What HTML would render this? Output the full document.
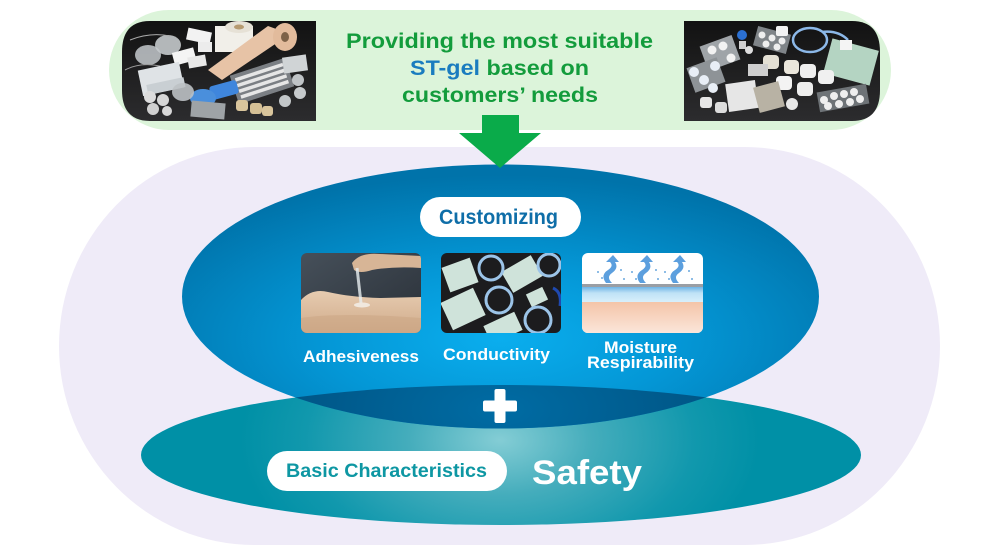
<!DOCTYPE html>
<html>
<head>
<meta charset="utf-8">
<style>
html,body{margin:0;padding:0;background:#fff;}
svg{display:block;}
text{font-family:"Liberation Sans",Arial,sans-serif;font-weight:bold;}
</style>
</head>
<body>
<svg width="1000" height="560" viewBox="0 0 1000 560" xmlns="http://www.w3.org/2000/svg">
<defs>
  <radialGradient id="gBlue" cx="0.5" cy="0.66" r="0.62">
    <stop offset="0" stop-color="#0aaeee"/>
    <stop offset="0.45" stop-color="#0497d6"/>
    <stop offset="1" stop-color="#0073aa"/>
  </radialGradient>
  <radialGradient id="gTeal" gradientUnits="userSpaceOnUse" cx="500" cy="440" r="260" gradientTransform="translate(0,440) scale(1,0.6) translate(0,-440)">
    <stop offset="0" stop-color="#84cdd5"/>
    <stop offset="0.35" stop-color="#45adbc"/>
    <stop offset="0.75" stop-color="#1198ad"/>
    <stop offset="1" stop-color="#0090a6"/>
  </radialGradient>
  <radialGradient id="gDark" gradientUnits="userSpaceOnUse" cx="500" cy="410" r="300" gradientTransform="translate(0,410) scale(1,0.5) translate(0,-410)">
    <stop offset="0" stop-color="#006ca4"/>
    <stop offset="1" stop-color="#004c79"/>
  </radialGradient>
  <clipPath id="clipTeal"><ellipse cx="501" cy="455" rx="360" ry="70"/></clipPath>
  <linearGradient id="dark1" x1="0" y1="0" x2="0" y2="1">
    <stop offset="0" stop-color="#121212"/>
    <stop offset="1" stop-color="#2c2c2e"/>
  </linearGradient>
  <linearGradient id="slate" x1="0" y1="0" x2="1" y2="1">
    <stop offset="0" stop-color="#46505a"/>
    <stop offset="1" stop-color="#2a3038"/>
  </linearGradient>
  <linearGradient id="skin" x1="0" y1="0" x2="0" y2="1">
    <stop offset="0" stop-color="#e6cbb0"/>
    <stop offset="1" stop-color="#d0ab8a"/>
  </linearGradient>
  <linearGradient id="peach" x1="0" y1="0" x2="0" y2="1">
    <stop offset="0" stop-color="#f4c4a8"/>
    <stop offset="1" stop-color="#fbe6da"/>
  </linearGradient>
  <linearGradient id="lblue" x1="0" y1="0" x2="0" y2="1">
    <stop offset="0" stop-color="#6fb4e6"/>
    <stop offset="0.4" stop-color="#bfe2f6"/>
    <stop offset="1" stop-color="#d8effb"/>
  </linearGradient>
  <clipPath id="cp1"><rect x="301" y="253" width="120" height="80" rx="6"/></clipPath>
  <clipPath id="cp2"><rect x="441" y="253" width="120" height="80" rx="6"/></clipPath>
  <clipPath id="cp3"><rect x="582" y="253" width="121" height="80" rx="6"/></clipPath>
  <clipPath id="cpL"><path d="M150,21 H316 V121 H150 Q122,121 122,90 V52 Q122,21 150,21 Z"/></clipPath>
  <clipPath id="cpR"><path d="M684,21 H852 Q880,21 880,52 V90 Q880,121 852,121 H684 Z"/></clipPath>
</defs>

<!-- Green top pill -->
<rect x="109" y="10" width="782" height="120" rx="60" fill="#dcf4da"/>

<!-- Left product photo -->
<g clip-path="url(#cpL)">
  <rect x="122" y="21" width="194" height="100" fill="url(#dark1)"/>
  <ellipse cx="168" cy="45" rx="13" ry="10" fill="#cfd3d6" opacity="0.85"/>
  <ellipse cx="148" cy="55" rx="13" ry="10" fill="#c4c9cc" opacity="0.85"/>
  <path d="M130,40 Q150,32 170,36" stroke="#aaa" stroke-width="1" fill="none"/>
  <path d="M125,70 Q140,62 160,66" stroke="#999" stroke-width="1" fill="none"/>
  <rect x="187" y="30" width="24" height="12" fill="#f2f2f2" transform="rotate(12 199 36)"/>
  <rect x="173" y="50" width="22" height="13" fill="#f4f4f4" transform="rotate(-15 184 56)"/>
  <rect x="188" y="56" width="18" height="11" fill="#e8e8e8" transform="rotate(-10 197 61)"/>
  <rect x="198" y="42" width="14" height="10" fill="#ececec"/>
  <rect x="215" y="26" width="38" height="26" fill="#f1efe9"/>
  <ellipse cx="239" cy="27" rx="14" ry="6" fill="#e6e1d6"/>
  <ellipse cx="239" cy="27" rx="5" ry="2.5" fill="#b69a70"/>
  <path d="M268,26 L290,34 L222,80 L208,70 Z" fill="#e7c3a6"/>
  <ellipse cx="285" cy="37" rx="12" ry="14" fill="#e2bb9c"/>
  <ellipse cx="285" cy="37" rx="4" ry="5" fill="#7d6248"/>
  <rect x="140" y="66" width="42" height="26" fill="#dfe3e6" transform="rotate(-12 161 79)"/>
  <rect x="147" y="82" width="38" height="10" fill="#c9cfd3" transform="rotate(-12 161 87)"/>
  <rect x="233" y="66" width="58" height="30" fill="#7b7f84" transform="rotate(-18 262 81)"/>
  <g transform="rotate(-18 262 81)" fill="#e6e6e6">
    <rect x="237" y="70" width="50" height="3.5"/>
    <rect x="237" y="76" width="50" height="3.5"/>
    <rect x="237" y="82" width="50" height="3.5"/>
    <rect x="237" y="88" width="50" height="3.5"/>
  </g>
  <rect x="210" y="83" width="28" height="14" rx="3" fill="#3f86dd" transform="rotate(-15 224 90)"/>
  <ellipse cx="203" cy="98" rx="13" ry="9" fill="#4a8fdc"/>
  <ellipse cx="183" cy="92" rx="11" ry="9" fill="#bcc1c4" opacity="0.9"/>
  <circle cx="150" cy="97" r="6" fill="#dcdcdc"/>
  <circle cx="163" cy="100" r="6" fill="#d6d6d6"/>
  <circle cx="153" cy="109" r="6" fill="#d0d0d0"/>
  <circle cx="167" cy="111" r="5" fill="#d8d8d8"/>
  <rect x="191" y="102" width="34" height="16" fill="#9ea3a6" transform="rotate(5 208 110)"/>
  <rect x="236" y="100" width="12" height="11" rx="3" fill="#d9c59c"/>
  <rect x="250" y="103" width="12" height="11" rx="3" fill="#d5c095"/>
  <rect x="262" y="106" width="11" height="10" rx="3" fill="#d9c59c"/>
  <rect x="283" y="56" width="24" height="16" fill="#d0d4d6" transform="rotate(-8 295 64)"/>
  <circle cx="298" cy="80" r="6" fill="#bfc3c6"/>
  <circle cx="300" cy="93" r="6" fill="#c6cacc"/>
  <circle cx="285" cy="101" r="6" fill="#c2c6c8"/>
</g>

<!-- Right product photo -->
<g clip-path="url(#cpR)">
  <rect x="684" y="21" width="196" height="100" fill="url(#dark1)"/>
  <rect x="703" y="40" width="34" height="26" fill="#9fa4a8" transform="rotate(-20 720 53)"/>
  <circle cx="712" cy="50" r="4.5" fill="#f2f2f2"/><circle cx="723" cy="46" r="4.5" fill="#f2f2f2"/><circle cx="731" cy="58" r="4.5" fill="#f2f2f2"/>
  <rect x="690" y="62" width="32" height="26" fill="#8e9397" transform="rotate(-20 706 75)"/>
  <circle cx="694" cy="72" r="5" fill="#e8eef6"/><circle cx="704" cy="80" r="5" fill="#e8eef6"/><circle cx="713" cy="88" r="5" fill="#e8eef6"/><circle cx="715" cy="66" r="5" fill="#e8eef6"/>
  <circle cx="742" cy="35" r="5" fill="#2b70d2"/>
  <rect x="739" y="41" width="7" height="8" fill="#cfcfcf"/>
  <circle cx="749" cy="50" r="4" fill="#dedede"/>
  <rect x="755" y="30" width="34" height="20" fill="#7f8488" transform="rotate(15 772 40)"/>
  <circle cx="762" cy="35" r="3.5" fill="#eee"/><circle cx="772" cy="38" r="3.5" fill="#eee"/><circle cx="782" cy="41" r="3.5" fill="#eee"/><circle cx="766" cy="44" r="3.5" fill="#eee"/><circle cx="777" cy="47" r="3.5" fill="#eee"/>
  <rect x="776" y="26" width="12" height="10" rx="2" fill="#f2f2f2"/>
  <ellipse cx="810" cy="40" rx="17" ry="12" fill="none" stroke="#8cb8e8" stroke-width="2.5"/>
  <path d="M822,32 Q838,30 848,40" stroke="#8cb8e8" stroke-width="2.5" fill="none"/>
  <rect x="827" y="44" width="48" height="36" fill="#b4d4c2" transform="rotate(15 851 62)"/>
  <rect x="840" y="40" width="12" height="10" fill="#f4f4f4"/>
  <rect x="763" y="55" width="16" height="14" rx="4" fill="#e4e0d4"/>
  <rect x="784" y="60" width="15" height="14" rx="4" fill="#ebe7dc"/>
  <rect x="800" y="64" width="16" height="14" rx="4" fill="#efefef"/>
  <rect x="818" y="70" width="16" height="14" rx="4" fill="#f0f0f0"/>
  <rect x="776" y="76" width="16" height="14" rx="4" fill="#f3f3f3"/>
  <rect x="797" y="82" width="16" height="14" rx="4" fill="#eeeeee"/>
  <rect x="748" y="64" width="20" height="12" fill="#cfcfcf"/>
  <rect x="727" y="82" width="30" height="28" fill="#e6e6e6" transform="rotate(-8 742 96)"/>
  <rect x="756" y="84" width="26" height="26" fill="#b8b2a4" transform="rotate(-15 769 97)"/>
  <rect x="700" y="97" width="12" height="11" rx="3" fill="#e6e6e6"/>
  <rect x="715" y="102" width="12" height="11" rx="3" fill="#ddd"/>
  <circle cx="792" cy="104" r="6" fill="#e8e8e8"/>
  <rect x="818" y="88" width="50" height="20" fill="#6e7377" transform="rotate(-10 843 98)"/>
  <circle cx="824" cy="100" r="4" fill="#eee"/><circle cx="834" cy="96" r="4" fill="#eee"/><circle cx="844" cy="94" r="4" fill="#eee"/><circle cx="854" cy="92" r="4" fill="#eee"/><circle cx="828" cy="106" r="4" fill="#eee"/><circle cx="839" cy="104" r="4" fill="#eee"/><circle cx="850" cy="102" r="4" fill="#eee"/><circle cx="860" cy="99" r="4" fill="#eee"/>
</g>

<!-- Title text -->
<text x="346" y="48" font-size="21" fill="#139c3c" textLength="307" lengthAdjust="spacingAndGlyphs">Providing the most suitable</text>
<text x="410" y="75" font-size="21" fill="#139c3c" textLength="179" lengthAdjust="spacingAndGlyphs"><tspan fill="#1a7cbf">ST-gel</tspan> based on</text>
<text x="402" y="102" font-size="21" fill="#139c3c" textLength="196" lengthAdjust="spacingAndGlyphs">customers’ needs</text>

<!-- Lavender base -->
<rect x="59" y="147" width="881" height="398" rx="195" ry="199" fill="#efebf8"/>

<!-- Teal ellipse -->
<ellipse cx="501" cy="455" rx="360" ry="70" fill="url(#gTeal)"/>
<!-- Blue ellipse -->
<ellipse cx="500.5" cy="296.5" rx="318.5" ry="132" fill="url(#gBlue)"/>
<!-- Overlap -->
<ellipse cx="500.5" cy="296.5" rx="318.5" ry="132" fill="url(#gDark)" clip-path="url(#clipTeal)"/>

<!-- Green arrow -->
<rect x="482" y="115" width="37" height="19" fill="#0aab4a"/>
<polygon points="459,133 541,133 500,168" fill="#0aab4a"/>

<!-- Customizing pill -->
<rect x="420" y="197" width="161" height="40" rx="20" fill="#ffffff"/>
<text x="439" y="224" font-size="21" fill="#0f6ea8" textLength="119" lengthAdjust="spacingAndGlyphs">Customizing</text>

<!-- Photo 1: Adhesiveness -->
<g clip-path="url(#cp1)">
  <rect x="301" y="253" width="120" height="80" fill="url(#slate)"/>
  <path d="M301,300 Q312,288 328,292 Q350,297 380,298 L421,297 L421,333 L301,333 Z" fill="url(#skin)"/>
  <path d="M301,318 Q340,312 421,318 L421,333 L301,333 Z" fill="#c9a381" opacity="0.5"/>
  <path d="M352,263 Q360,252 380,254 L421,256 L421,268 Q395,266 372,270 Q360,274 354,270 Z" fill="#d7b596"/>
  <path d="M357,268 L361,303" stroke="#e8eef0" stroke-width="3" opacity="0.8"/>
  <ellipse cx="362" cy="305" rx="8" ry="2.5" fill="#f2ece4" opacity="0.9"/>
</g>

<!-- Photo 2: Conductivity -->
<g clip-path="url(#cp2)">
  <rect x="441" y="253" width="120" height="80" fill="#1c1c1e"/>
  <rect x="445" y="262" width="30" height="26" fill="#cfe3da" transform="rotate(-20 460 275)"/>
  <rect x="505" y="262" width="34" height="24" fill="#cfe3da" transform="rotate(-30 522 274)"/>
  <rect x="445" y="294" width="36" height="30" fill="#cfe3da" transform="rotate(-25 463 309)"/>
  <rect x="486" y="318" width="34" height="20" fill="#cfe3da" transform="rotate(-25 503 328)"/>
  <rect x="528" y="290" width="18" height="14" fill="#cfe3da" transform="rotate(-25 537 297)"/>
  <circle cx="491" cy="268" r="12" fill="none" stroke="#9cc4e8" stroke-width="3"/>
  <circle cx="549" cy="265" r="11" fill="none" stroke="#9cc4e8" stroke-width="3"/>
  <circle cx="499" cy="300" r="13" fill="none" stroke="#9cc4e8" stroke-width="3"/>
  <circle cx="538" cy="320" r="13" fill="none" stroke="#9cc4e8" stroke-width="3"/>
  <path d="M553,288 Q562,292 560,306" stroke="#1f49b0" stroke-width="3" fill="none"/>
</g>

<!-- Photo 3: Moisture -->
<g clip-path="url(#cp3)">
  <rect x="582" y="253" width="121" height="80" fill="#ffffff"/>
  <rect x="582" y="284" width="121" height="3" fill="#9a9ea4"/>
  <rect x="582" y="287" width="121" height="15" fill="url(#lblue)"/>
  <rect x="582" y="302" width="121" height="31" fill="url(#peach)"/>
  <g fill="#3f8ed8">
    <path d="M606,283 Q600,275 608,270 Q614,266 610,262 L606,262 L613,255 L619,262 L615,262 Q619,268 612,273 Q606,277 612,283 Z" opacity="0.85"/>
    <path d="M640,283 Q634,275 642,270 Q648,266 644,262 L640,262 L647,255 L653,262 L649,262 Q653,268 646,273 Q640,277 646,283 Z" opacity="0.85"/>
    <path d="M673,283 Q667,275 675,270 Q681,266 677,262 L673,262 L680,255 L686,262 L682,262 Q686,268 679,273 Q673,277 679,283 Z" opacity="0.85"/>
  </g>
  <g fill="#6aa8de">
    <circle cx="598" cy="272" r="1"/><circle cx="602" cy="278" r="1"/><circle cx="621" cy="270" r="1"/><circle cx="624" cy="279" r="1"/>
    <circle cx="632" cy="272" r="1"/><circle cx="636" cy="279" r="1"/><circle cx="656" cy="270" r="1"/><circle cx="658" cy="279" r="1"/>
    <circle cx="665" cy="272" r="1"/><circle cx="669" cy="279" r="1"/><circle cx="689" cy="271" r="1"/><circle cx="692" cy="279" r="1"/>
  </g>
</g>

<!-- Labels -->
<text x="303" y="362" font-size="17" fill="#ffffff" textLength="116" lengthAdjust="spacingAndGlyphs">Adhesiveness</text>
<text x="443" y="360" font-size="17" fill="#ffffff" textLength="107" lengthAdjust="spacingAndGlyphs">Conductivity</text>
<text x="604" y="353" font-size="17" fill="#ffffff" textLength="73" lengthAdjust="spacingAndGlyphs">Moisture</text>
<text x="587" y="368" font-size="17" fill="#ffffff" textLength="107" lengthAdjust="spacingAndGlyphs">Respirability</text>

<!-- Plus -->
<rect x="494.5" y="389" width="11" height="34" rx="2" fill="#ffffff"/>
<rect x="483" y="400.5" width="34" height="11" rx="2" fill="#ffffff"/>

<!-- Basic Characteristics -->
<rect x="267" y="451" width="240" height="40" rx="20" fill="#ffffff"/>
<text x="286" y="477" font-size="19" fill="#0e97a3" textLength="201" lengthAdjust="spacingAndGlyphs">Basic Characteristics</text>
<text x="532" y="484" font-size="34" fill="#ffffff" textLength="110" lengthAdjust="spacingAndGlyphs">Safety</text>
</svg>
</body>
</html>
